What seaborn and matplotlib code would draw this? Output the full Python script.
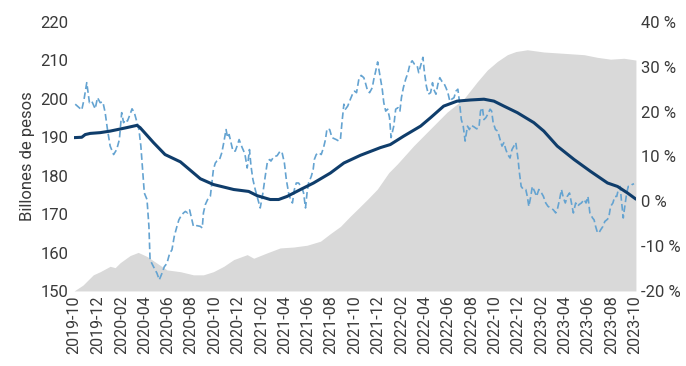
import pandas as pd
import matplotlib.pyplot as plt
import matplotlib.dates as mdates
from matplotlib.ticker import FuncFormatter, MultipleLocator
import seaborn as sns

# weekly series (dashed), left axis, billones de pesos
dash_dates = [
    '2019-10-04', '2019-10-21', '2019-10-27', '2019-11-03', '2019-11-10', '2019-11-16', '2019-11-25',
    '2019-12-01', '2019-12-08', '2019-12-15', '2019-12-21', '2019-12-27',
    '2020-01-03', '2020-01-12', '2020-01-20', '2020-01-27', '2020-02-02', '2020-02-07', '2020-02-12',
    '2020-02-17', '2020-02-24', '2020-02-29', '2020-03-06', '2020-03-13', '2020-03-18', '2020-03-23',
    '2020-03-28', '2020-04-01', '2020-04-08', '2020-04-13', '2020-04-16', '2020-04-25', '2020-05-04',
    '2020-05-10', '2020-05-17', '2020-05-23', '2020-05-30', '2020-06-06', '2020-06-12', '2020-06-18',
    '2020-06-25', '2020-06-30', '2020-07-05', '2020-07-12', '2020-07-17', '2020-07-23', '2020-07-28',
    '2020-08-07', '2020-08-16', '2020-08-25', '2020-08-30', '2020-09-02', '2020-09-07', '2020-09-13',
    '2020-09-20', '2020-09-24', '2020-09-28', '2020-10-03', '2020-10-07', '2020-10-14', '2020-10-20',
    '2020-10-25', '2020-10-31', '2020-11-04', '2020-11-08', '2020-11-13', '2020-11-18', '2020-11-24',
    '2020-11-30', '2020-12-04', '2020-12-12', '2020-12-16', '2020-12-20', '2020-12-25', '2020-12-28',
    '2020-12-31',
    '2021-01-04', '2021-01-09', '2021-01-15', '2021-01-21', '2021-01-28', '2021-02-04', '2021-02-10',
    '2021-02-16', '2021-02-22', '2021-02-25', '2021-03-04', '2021-03-13', '2021-03-21', '2021-03-26',
    '2021-04-01', '2021-04-06', '2021-04-12', '2021-04-17', '2021-04-22', '2021-04-27', '2021-05-02',
    '2021-05-08', '2021-05-17', '2021-05-21', '2021-05-26', '2021-05-30', '2021-06-03', '2021-06-10',
    '2021-06-15', '2021-06-18', '2021-06-23', '2021-06-29', '2021-07-06', '2021-07-12', '2021-07-17',
    '2021-07-21', '2021-07-28', '2021-08-03', '2021-08-14', '2021-08-21', '2021-08-25', '2021-08-29',
    '2021-09-03', '2021-09-07', '2021-09-13', '2021-09-20', '2021-09-27', '2021-10-01', '2021-10-06',
    '2021-10-12', '2021-10-18', '2021-10-25', '2021-10-29', '2021-11-04', '2021-11-09', '2021-11-16',
    '2021-11-20', '2021-11-24', '2021-11-30', '2021-12-06', '2021-12-12', '2021-12-16', '2021-12-21',
    '2021-12-26', '2021-12-31',
    '2022-01-04', '2022-01-11', '2022-01-16', '2022-01-22', '2022-01-27', '2022-01-31', '2022-02-05',
    '2022-02-11', '2022-02-17', '2022-02-22', '2022-02-28', '2022-03-06', '2022-03-13', '2022-03-17',
    '2022-03-22', '2022-03-28', '2022-04-01', '2022-04-06', '2022-04-11', '2022-04-17', '2022-04-22',
    '2022-04-25', '2022-05-01', '2022-05-06', '2022-05-11', '2022-05-16', '2022-05-21', '2022-05-27',
    '2022-06-01', '2022-06-06', '2022-06-11', '2022-06-17', '2022-06-22', '2022-06-27', '2022-07-01',
    '2022-07-06', '2022-07-11', '2022-07-16', '2022-07-22', '2022-07-27', '2022-08-01', '2022-08-08',
    '2022-08-15', '2022-08-21', '2022-08-25', '2022-08-30', '2022-09-03', '2022-09-08', '2022-09-13',
    '2022-09-19', '2022-09-23', '2022-09-27', '2022-10-03', '2022-10-09', '2022-10-15', '2022-10-20',
    '2022-10-25', '2022-10-30', '2022-11-04', '2022-11-10', '2022-11-15', '2022-11-20', '2022-11-25',
    '2022-12-01', '2022-12-04', '2022-12-09', '2022-12-15', '2022-12-21', '2022-12-25', '2022-12-29',
    '2023-01-03', '2023-01-07', '2023-01-13', '2023-01-18', '2023-01-24', '2023-01-31', '2023-02-05',
    '2023-02-11', '2023-02-17', '2023-02-24', '2023-03-03', '2023-03-09', '2023-03-13', '2023-03-19',
    '2023-03-24', '2023-03-29', '2023-04-03', '2023-04-08', '2023-04-14', '2023-04-19', '2023-04-24',
    '2023-04-30', '2023-05-05', '2023-05-09', '2023-05-15', '2023-05-22', '2023-05-27', '2023-06-01',
    '2023-06-06', '2023-06-13', '2023-06-17', '2023-06-21', '2023-06-26', '2023-06-30', '2023-07-04',
    '2023-07-10', '2023-07-15', '2023-07-20', '2023-07-25', '2023-07-30', '2023-08-05', '2023-08-10',
    '2023-08-15', '2023-08-18', '2023-08-24', '2023-08-27', '2023-09-01', '2023-09-05', '2023-09-10',
    '2023-09-14', '2023-09-19', '2023-09-24', '2023-09-29',
]
dash_values = [
    198.6, 197.1, 199.9, 204.2, 199.0, 199.4, 197.4, 200.3, 199.0, 199.2, 196.4, 192.0,
    187.7, 185.5, 186.8, 189.4, 196.4, 193.8, 194.6, 194.2, 196.0, 197.4,
    196.4, 193.8, 192.0, 187.7, 180.7, 175.5, 173.8, 166.8, 158.1, 156.3,
    154.6, 152.9, 154.6, 156.3, 157.2, 159.8, 160.7, 164.2, 166.8, 168.5,
    169.4, 170.3, 170.7, 170.3, 171.1, 166.8, 167.0, 166.8, 166.4,
    170.3, 172.5, 173.8, 174.6, 178.1, 181.6, 183.3, 183.8, 184.2, 186.0, 188.6, 192.0,
    189.9, 190.7, 188.6, 186.4, 186.4, 188.1, 189.4, 187.3, 186.4, 185.1, 182.0, 184.2, 186.8,
    182.5, 179.0, 176.4, 174.2, 171.6, 175.5, 179.8, 183.8, 184.2, 183.8,
    184.9, 185.2, 186.4, 186.0, 183.3, 179.0, 175.5, 173.8, 172.9, 176.4,
    178.1, 178.1, 176.8, 175.5, 171.6, 175.5, 178.1, 179.8, 181.6, 184.2, 185.5, 186.0,
    185.5, 187.3, 189.4, 192.2, 192.0, 189.9, 189.4, 189.0, 189.4, 193.8,
    198.6, 197.3, 198.1, 199.9, 201.6, 202.0, 201.6, 205.1, 206.1, 205.5, 204.2,
    202.0, 201.6, 202.9, 205.1, 206.8, 209.6, 206.0, 202.5, 199.0, 196.8, 197.3, 195.1,
    189.9, 192.9, 197.3, 197.7, 196.8, 200.3, 202.9, 205.1, 206.8, 209.0, 209.9,
    209.0, 208.6, 206.8, 208.6, 210.8, 206.8, 203.3, 201.2, 201.6, 204.2, 202.5,
    201.2, 203.8, 205.5, 204.6, 204.2, 202.9, 201.6, 199.4, 199.9, 200.3, 202.0, 202.5,
    199.4, 194.6, 192.9, 189.0, 192.9, 192.0, 193.1, 192.7, 192.2, 192.5, 196.8, 197.7,
    194.6, 195.1, 196.0, 197.3, 196.8, 193.8, 192.0, 191.6, 189.4, 187.7, 188.6, 186.8,
    185.5, 184.6, 186.8, 187.7, 188.6, 184.2, 181.1, 177.2, 176.4, 176.4, 174.6, 172.0,
    174.6, 177.2, 175.9, 174.6, 176.4, 175.5, 174.6, 172.9, 172.0, 171.6,
    171.1, 170.3, 171.1, 173.8, 176.4, 174.2, 172.9, 174.6, 175.5, 172.9, 170.3, 172.9,
    172.0, 172.5, 172.9, 173.8, 172.9, 174.6, 170.3, 169.0, 168.5, 166.8, 165.1, 165.2,
    165.9, 166.8, 168.1, 168.5, 169.0, 172.0, 172.9, 174.6, 174.6, 175.9, 177.2, 173.8,
    169.0, 172.0, 175.5, 177.2, 177.2, 177.7, 177.9,
]

# smooth trend (thick line), left axis
trend_dates = [
    '2019-10-01', '2019-10-21', '2019-10-30', '2019-11-12', '2019-12-08', '2020-01-03', '2020-02-15',
    '2020-03-13', '2020-03-21', '2020-04-25', '2020-05-25', '2020-07-04', '2020-08-25', '2020-09-28',
    '2020-11-20', '2020-12-29', '2021-01-20', '2021-02-23', '2021-03-17', '2021-04-08', '2021-05-13',
    '2021-06-16', '2021-07-30', '2021-09-03', '2021-10-16', '2021-12-07', '2022-01-02', '2022-02-06',
    '2022-03-22', '2022-04-17', '2022-05-21', '2022-06-25', '2022-07-30', '2022-09-03', '2022-09-29',
    '2022-10-25', '2022-11-29', '2023-01-11', '2023-02-06', '2023-03-13', '2023-04-26', '2023-06-08',
    '2023-07-22', '2023-08-17', '2023-09-12', '2023-10-04',
]
trend_values = [
    189.9, 190.0, 190.7, 191.0, 191.2, 191.6, 192.5, 193.1, 192.5, 188.6, 185.5, 183.6, 179.2, 177.7,
    176.4, 175.9, 174.8, 173.8, 173.8, 174.6, 176.4, 178.1, 180.7, 183.3, 185.3, 187.3, 188.1, 190.3,
    192.9, 195.1, 198.1, 199.4, 199.7, 199.9, 199.4, 198.1, 196.4, 193.8, 191.6, 187.7, 184.2, 181.1,
    178.1, 177.2, 175.5, 173.9,
]

# growth (gray area), right axis, %
area_dates = [
    '2019-10-01', '2019-10-24', '2019-11-20', '2019-12-08', '2020-01-03', '2020-01-16', '2020-01-29',
    '2020-02-24', '2020-03-16', '2020-04-08', '2020-05-04', '2020-05-30', '2020-07-04', '2020-08-07',
    '2020-09-02', '2020-09-28', '2020-10-25', '2020-11-20', '2020-12-25', '2021-01-11', '2021-02-15',
    '2021-03-21', '2021-04-25', '2021-05-30', '2021-07-04', '2021-07-30', '2021-08-25', '2021-09-20',
    '2021-10-08', '2021-11-03', '2021-11-29', '2021-12-29', '2022-01-20', '2022-03-04', '2022-04-17',
    '2022-05-30', '2022-07-13', '2022-08-17', '2022-09-12', '2022-10-08', '2022-11-03', '2022-11-25',
    '2022-12-25', '2023-02-06', '2023-03-31', '2023-05-22', '2023-06-26', '2023-07-30', '2023-09-03',
    '2023-10-04',
]
area_values = [
    -20.0, -18.7, -16.4, -15.7, -14.5, -14.8, -13.7, -12.1, -11.4, -12.3,
    -13.8, -15.3, -15.7, -16.4, -16.4, -15.7, -14.5, -13.0, -11.9, -12.7,
    -11.5, -10.4, -10.2, -9.8, -8.9, -7.2, -5.6, -3.3, -1.8, 0.4,
    2.7, 6.4, 8.3, 12.4, 16.2, 19.9, 22.9, 26.7, 29.3, 31.2,
    32.7, 33.4, 33.8, 33.3, 33.0, 32.7, 32.1, 31.7, 31.9, 31.5,
]

dash = pd.DataFrame({'fecha': pd.to_datetime(dash_dates), 'valor': dash_values})
trend = pd.DataFrame({'fecha': pd.to_datetime(trend_dates), 'valor': trend_values})
area = pd.DataFrame({'fecha': pd.to_datetime(area_dates), 'pct': area_values})

sns.set_style('white')
plt.rcParams['font.family'] = ['Roboto', 'DejaVu Sans']
text_color = '#3a3a3a'

fig, ax = plt.subplots(figsize=(6.86, 3.66), dpi=100)
fig.subplots_adjust(left=0.108, right=0.927, bottom=0.205, top=0.94)
ax2 = ax.twinx()

# area on the right axis, lines on top of it
ax2.fill_between(area['fecha'], area['pct'], -20, color='#d9d9d9', linewidth=0)
sns.lineplot(data=dash, x='fecha', y='valor', ax=ax, color='#64a3d1', linewidth=1.2,
             linestyle=(0, (4, 2)))
sns.lineplot(data=trend, x='fecha', y='valor', ax=ax, color='#0f3d6b', linewidth=2.2)
ax.set_zorder(ax2.get_zorder() + 1)
ax.patch.set_visible(False)

ax.set_ylim(150, 220)
ax2.set_ylim(-20, 40)
ax.yaxis.set_major_locator(MultipleLocator(10))
ax2.yaxis.set_major_locator(MultipleLocator(10))
ax2.yaxis.set_major_formatter(FuncFormatter(lambda v, _: f'{v:.0f} %'))
ax.set_xlim(pd.Timestamp('2019-10-01'), pd.Timestamp('2023-10-04'))
ax.xaxis.set_major_locator(mdates.MonthLocator(bymonth=[2, 4, 6, 8, 10, 12]))
ax.xaxis.set_major_formatter(mdates.DateFormatter('%Y-%m'))

ax.set_xlabel('')
ax.set_ylabel('Billones de pesos', fontsize=12, color=text_color)
for a in (ax, ax2):
    a.tick_params(length=0, labelsize=12, colors=text_color, pad=4)
    for s in a.spines.values():
        s.set_visible(False)
ax.tick_params(axis='x', labelsize=11.5, rotation=90, pad=3)

fig.savefig('out.png', dpi=100)
